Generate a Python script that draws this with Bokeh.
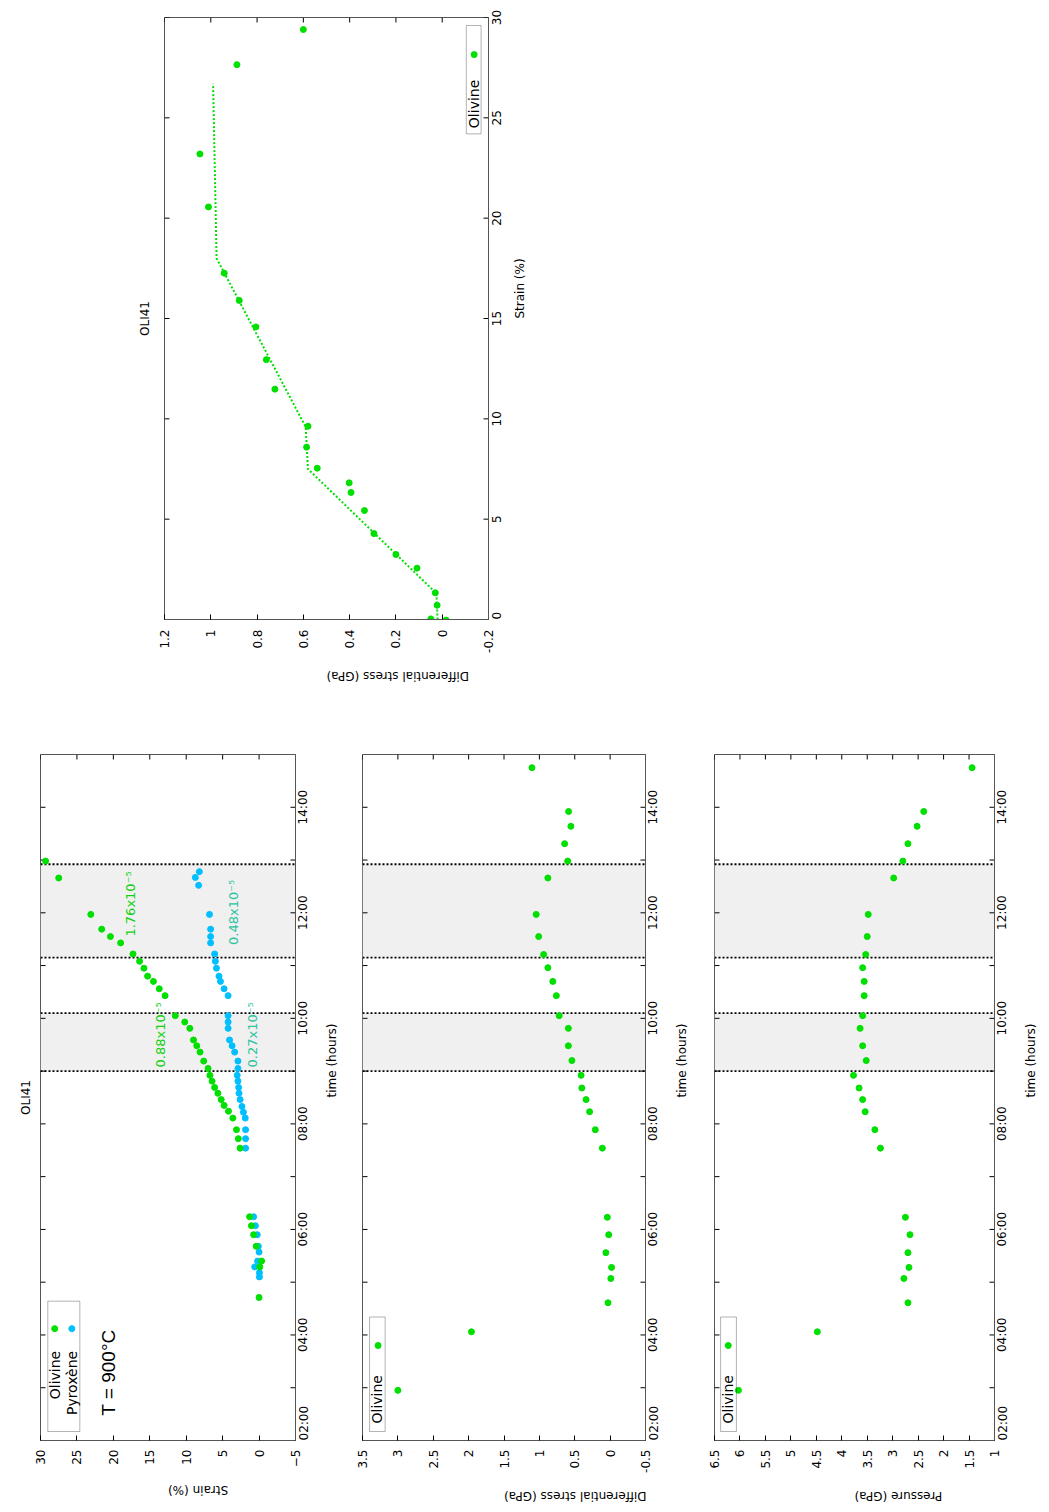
import math
from bokeh.plotting import figure
from bokeh.models import (Range1d, FixedTicker, BoxAnnotation, Span, Label, Spacer, Title)
from bokeh.layouts import row, column
from bokeh.embed import file_html
from bokeh.resources import INLINE

# ---------------- data ----------------
# strain vs time (hours)
olivine_time = [4.71, 5.29, 5.40, 5.68, 5.90, 6.07, 6.24, 7.54, 7.72, 7.89, 8.11, 8.24,
                8.35, 8.46, 8.58, 8.69, 8.81, 8.92, 9.05, 9.19, 9.36, 9.48, 9.59, 9.81,
                9.93, 10.05, 10.43, 10.56, 10.70, 10.80, 10.95, 11.08, 11.22, 11.43,
                11.55, 11.69, 11.97, 12.66, 12.98]
olivine_strain = [0.0, -0.1, -0.35, 0.4, 0.75, 1.05, 1.3, 2.6, 2.85, 3.1, 3.6, 4.2,
                  4.8, 5.2, 5.65, 6.1, 6.45, 6.75, 7.0, 7.6, 8.1, 8.55, 9.0, 9.5,
                  10.2, 11.5, 12.9, 13.7, 14.5, 15.3, 15.8, 16.4, 17.3, 19.0,
                  20.4, 21.6, 23.1, 27.5, 29.3]
pyroxene_time = [5.10, 5.18, 5.29, 5.40, 5.57, 5.68, 5.90, 6.07, 6.24, 7.54, 7.72, 7.89,
                 8.11, 8.22, 8.33, 8.46, 8.58, 8.69, 8.81, 8.92, 9.05, 9.19, 9.36, 9.48,
                 9.59, 9.81, 9.93, 10.05, 10.43, 10.56, 10.70, 10.80, 10.95, 11.08,
                 11.22, 11.43, 11.55, 11.69, 11.97, 12.52, 12.67, 12.78]
pyroxene_strain = [-0.05, -0.05, 0.6, 0.2, 0.0, 0.1, 0.25, 0.5, 0.75, 1.85, 1.85, 1.85,
                   1.9, 2.15, 2.35, 2.6, 2.75, 2.8, 2.9, 3.0, 2.9, 2.9, 3.35, 3.7,
                   4.05, 4.25, 4.25, 4.25, 4.25, 4.8, 5.3, 5.5, 5.85, 6.0,
                   6.1, 6.65, 6.65, 6.65, 6.8, 8.3, 8.75, 8.2]

# differential stress and pressure vs time
meas_time = [2.95, 4.06, 4.61, 5.07, 5.28, 5.56, 5.90, 6.23, 7.54, 7.89, 8.23, 8.46,
             8.68, 8.92, 9.20, 9.48, 9.81, 10.05, 10.43, 10.70, 10.96, 11.21, 11.55,
             11.97, 12.66, 12.98, 13.31, 13.64, 13.92, 14.75]
diff_stress = [3.00, 1.96, 0.03, -0.01, -0.02, 0.06, 0.02, 0.04, 0.11, 0.21, 0.29, 0.34,
               0.40, 0.41, 0.54, 0.59, 0.59, 0.72, 0.76, 0.81, 0.88, 0.94, 1.01,
               1.045, 0.88, 0.60, 0.643, 0.555, 0.587, 1.105]
pressure = [6.03, 4.48, 2.70, 2.78, 2.68, 2.70, 2.66, 2.75, 3.24, 3.35, 3.54, 3.59,
            3.66, 3.77, 3.52, 3.59, 3.64, 3.59, 3.56, 3.56, 3.59, 3.53, 3.50,
            3.48, 2.98, 2.80, 2.70, 2.52, 2.39, 1.44]

# stress vs strain (top plot)
ss_strain = [29.4, 27.65, 23.2, 20.56, 17.26, 15.9, 14.58, 12.95, 11.48, 9.63, 8.59,
             7.54, 6.81, 6.33, 5.43, 4.28, 3.24, 2.56, 1.33, 0.71, 0.03, -0.03]
ss_stress = [0.60, 0.887, 1.047, 1.01, 0.942, 0.877, 0.805, 0.760, 0.723, 0.580, 0.586,
             0.540, 0.402, 0.394, 0.336, 0.295, 0.200, 0.109, 0.030, 0.022, 0.049, -0.017]
fit_strain = [0.0, 1.3, 7.5, 9.6, 18.0, 26.7]
fit_stress = [0.02, 0.025, 0.58, 0.59, 0.975, 0.99]

# deformation steps (hours) and strain-rate annotations
band_start = [9.0, 11.15]
band_end = [10.1, 12.92]
rate_text = ["0.88x10\u207b\u2075", "0.27x10\u207b\u2075", "1.76x10\u207b\u2075", "0.48x10\u207b\u2075"]
rate_strain = [13.5, 0.9, 17.6, 3.5]
rate_time = [9.07, 9.07, 11.55, 11.39]

# ticks
strain_ticks = [-5, 0, 5, 10, 15, 20, 25, 30]
time_ticks = list(range(2, 15))
time_labels = ["02:00", "", "04:00", "", "06:00", "", "08:00", "", "10:00", "", "12:00", "", "14:00"]
stress_ticks = [-0.5, 0, 0.5, 1, 1.5, 2, 2.5, 3, 3.5]
stress_labels = ["-0.5", "0", "0.5", "1", "1.5", "2", "2.5", "3", "3.5"]
pressure_ticks = [1, 1.5, 2, 2.5, 3, 3.5, 4, 4.5, 5, 5.5, 6, 6.5]
pressure_labels = ["1", "1.5", "2", "2.5", "3", "3.5", "4", "4.5", "5", "5.5", "6", "6.5"]
top_stress_ticks = [-0.2, 0, 0.2, 0.4, 0.6, 0.8, 1.0, 1.2]
top_stress_labels = ["-0.2", "0", "0.2", "0.4", "0.6", "0.8", "1", "1.2"]
top_strain_ticks = [0, 5, 10, 15, 20, 25, 30]
top_strain_labels = ["0", "5", "10", "15", "20", "25", "30"]

# ---------------- style ----------------
GREEN = "#00e000"
BLUE = "#00bfff"
RATE_GREEN = "#10d010"
RATE_TEAL = "#2cc4a0"
rate_color = [RATE_GREEN, RATE_TEAL, RATE_GREEN, RATE_TEAL]
FONT = "DejaVu Sans"
FRAME = "#555555"
ROT = math.pi / 2
TICK = 5
FS = 12  # tick label font size (px)


def text_len(s):
    # approximate DejaVu Sans advance widths (em)
    w = {":": 0.337, ".": 0.318, "-": 0.361}
    return sum(w.get(c, 0.636) for c in s) * FS


def base_fig(width, height, xr, yr, bl, br, bt, bb):
    p = figure(width=width, height=height, output_backend="svg", toolbar_location=None,
               x_range=Range1d(*xr), y_range=Range1d(*yr), y_axis_location="right",
               min_border_left=bl, min_border_right=br, min_border_top=bt, min_border_bottom=bb)
    p.grid.visible = False
    p.outline_line_color = FRAME
    p.outline_line_width = 1
    p.background_fill_color = "white"
    p.border_fill_color = "white"
    return p


def style_axis(ax, ticks, labels, title, label_angle, standoff, label_standoff):
    ax.ticker = FixedTicker(ticks=ticks)
    if labels is not None:
        ax.major_label_overrides = {t: l for t, l in zip(ticks, labels)}
    ax.axis_label = title
    ax.axis_label_orientation = label_angle
    ax.axis_label_text_font = FONT
    ax.axis_label_text_font_size = "12px"
    ax.axis_label_text_font_style = "normal"
    ax.axis_label_text_color = "black"
    ax.major_label_text_font = FONT
    ax.major_label_text_font_size = "%dpx" % FS
    ax.major_label_text_color = "black"
    ax.major_label_orientation = ROT
    ax.major_tick_in = TICK
    ax.major_tick_out = 0
    ax.major_tick_line_color = "black"
    ax.minor_tick_line_color = None
    ax.axis_line_color = FRAME
    ax.major_label_standoff = standoff
    ax.axis_label_standoff = label_standoff


def right_axis(p, ticks, labels, title, px_per_unit, label_standoff):
    # Upward-reading labels on a right axis start at their anchor: anchor each
    # one half its length below its tick so that it is centred on the tick
    # (kept inside the range, where Bokeh draws tick labels).
    ax = p.yaxis[0]
    keep = [(t, l) for t, l in zip(ticks, labels) if l]
    lo = p.y_range.start
    pos = [max(t - text_len(l) / 2.0 / px_per_unit, lo) for t, l in keep]
    style_axis(ax, pos, [l for _, l in keep], title, ROT, 8, label_standoff)
    ax.major_tick_in = 0
    right = p.x_range.end
    p.ray(x=[right] * len(ticks), y=ticks, length=TICK, length_units="screen",
          angle=math.pi, line_color="black", line_width=1)


def mirror_ticks(p, xticks, yticks):
    # inward ticks on the top edge and the left edge of the frame
    top = p.y_range.end
    left = p.x_range.start
    p.ray(x=xticks, y=[top] * len(xticks), length=TICK, length_units="screen",
          angle=-math.pi / 2, line_color="black", line_width=1)
    p.ray(x=[left] * len(yticks), y=yticks, length=TICK, length_units="screen",
          angle=0, line_color="black", line_width=1)


def bands(p):
    for s, e in zip(band_start, band_end):
        p.add_layout(BoxAnnotation(bottom=s, top=e, fill_color="#f0f0f0", fill_alpha=1,
                                   line_color=None, level="underlay"))
        for loc in (s, e):
            p.add_layout(Span(location=loc, dimension="width", line_color="black",
                              line_width=1.8, line_dash="2 2", level="underlay"))


def legend_box(p, left, right, bottom, top):
    p.add_layout(BoxAnnotation(left=left, right=right, bottom=bottom, top=top,
                               fill_alpha=0, line_color="black", line_width=1))


def legend_text(p, x, y, text, size="14px"):
    p.add_layout(Label(x=x, y=y, text=text, angle=ROT, text_align="right",
                       text_baseline="middle", text_font=FONT, text_font_size=size,
                       text_color="black"))


def side_title(p, standoff):
    p.add_layout(Title(text="OLI41", align="center", vertical_align="top", standoff=standoff,
                       text_font=FONT, text_font_size="12px", text_font_style="normal",
                       text_color="black"), "left")


# ---------------- top: stress vs strain ----------------
pt = base_fig(416, 738, (1.2, -0.2), (0, 30), 40, 52, 9, 127)
style_axis(pt.xaxis[0], top_stress_ticks, top_stress_labels, "Differential stress (GPa)", math.pi, 10, 20)
right_axis(pt, top_strain_ticks, top_strain_labels, "Strain (%)", (738 - 9 - 127) / 30.0, 11)
mirror_ticks(pt, top_stress_ticks, top_strain_ticks)
side_title(pt, 21)
pt.line(fit_stress, fit_strain, line_color=GREEN, line_width=2, line_dash="2 2")
pt.scatter(ss_stress, ss_strain, size=6, color=GREEN)
legend_box(pt, -0.104, -0.168, 24.2, 29.6)
legend_text(pt, -0.136, 26.9, "Olivine")
pt.scatter([-0.138], [28.15], size=6, color=GREEN)

PX_H = (766 - 8 - 66) / 13.0

# ---------------- panel 1: strain vs time ----------------
p1 = base_fig(342, 766, (30, -5), (2, 15), 32, 55, 8, 66)
style_axis(p1.xaxis[0], strain_ticks, None, "Strain (%)", math.pi, 9, 20)
right_axis(p1, time_ticks, time_labels, "time (hours)", PX_H, 11)
mirror_ticks(p1, strain_ticks, time_ticks)
side_title(p1, 11)
bands(p1)
p1.scatter(pyroxene_strain, pyroxene_time, size=6, color=BLUE)
p1.scatter(olivine_strain, olivine_time, size=6, color=GREEN)
for t, xs, ys, c in zip(rate_text, rate_strain, rate_time, rate_color):
    p1.add_layout(Label(x=xs, y=ys, text=t, angle=ROT, text_align="left",
                        text_baseline="middle", text_font=FONT, text_font_size="13px",
                        text_color=c))
legend_box(p1, 29.0, 24.6, 2.17, 4.64)
legend_text(p1, 28.0, 3.7, "Olivine")
legend_text(p1, 25.7, 3.7, "Pyrox\u00e8ne")
p1.scatter([28.05], [4.12], size=6, color=GREEN)
p1.scatter([25.7], [4.12], size=6, color=BLUE)
p1.add_layout(Label(x=20.6, y=2.47, text="T = 900\u00b0C", angle=ROT, text_align="left",
                    text_baseline="middle", text_font="Liberation Sans",
                    text_font_size="19px", text_color="black"))

# ---------------- panel 2: differential stress vs time ----------------
p2 = base_fig(354, 766, (3.5, -0.5), (2, 15), 12, 59, 8, 66)
style_axis(p2.xaxis[0], stress_ticks, stress_labels, "Differential stress (GPa)", math.pi, 9, 20)
right_axis(p2, time_ticks, time_labels, "time (hours)", PX_H, 11)
mirror_ticks(p2, stress_ticks, time_ticks)
bands(p2)
p2.scatter(diff_stress, meas_time, size=6, color=GREEN)
legend_box(p2, 3.40, 3.18, 2.17, 4.34)
legend_text(p2, 3.29, 3.24, "Olivine")
p2.scatter([3.28], [3.8], size=6, color=GREEN)

# ---------------- panel 3: pressure vs time ----------------
p3 = base_fig(343, 766, (6.5, 1), (2, 15), 10, 50, 8, 66)
style_axis(p3.xaxis[0], pressure_ticks, pressure_labels, "Pressure (GPa)", math.pi, 9, 24)
right_axis(p3, time_ticks, time_labels, "time (hours)", PX_H, 11)
mirror_ticks(p3, pressure_ticks, time_ticks)
bands(p3)
p3.scatter(pressure, meas_time, size=6, color=GREEN)
legend_box(p3, 6.38, 6.07, 2.17, 4.34)
legend_text(p3, 6.24, 3.24, "Olivine")
p3.scatter([6.23], [3.8], size=6, color=GREEN)

content = column(row(Spacer(width=116, height=738), pt), row(p1, p2, p3))
layout = column(Spacer(width=8, height=8), row(Spacer(width=8, height=8), content))
open("out.html", "w").write(file_html(layout, INLINE))
